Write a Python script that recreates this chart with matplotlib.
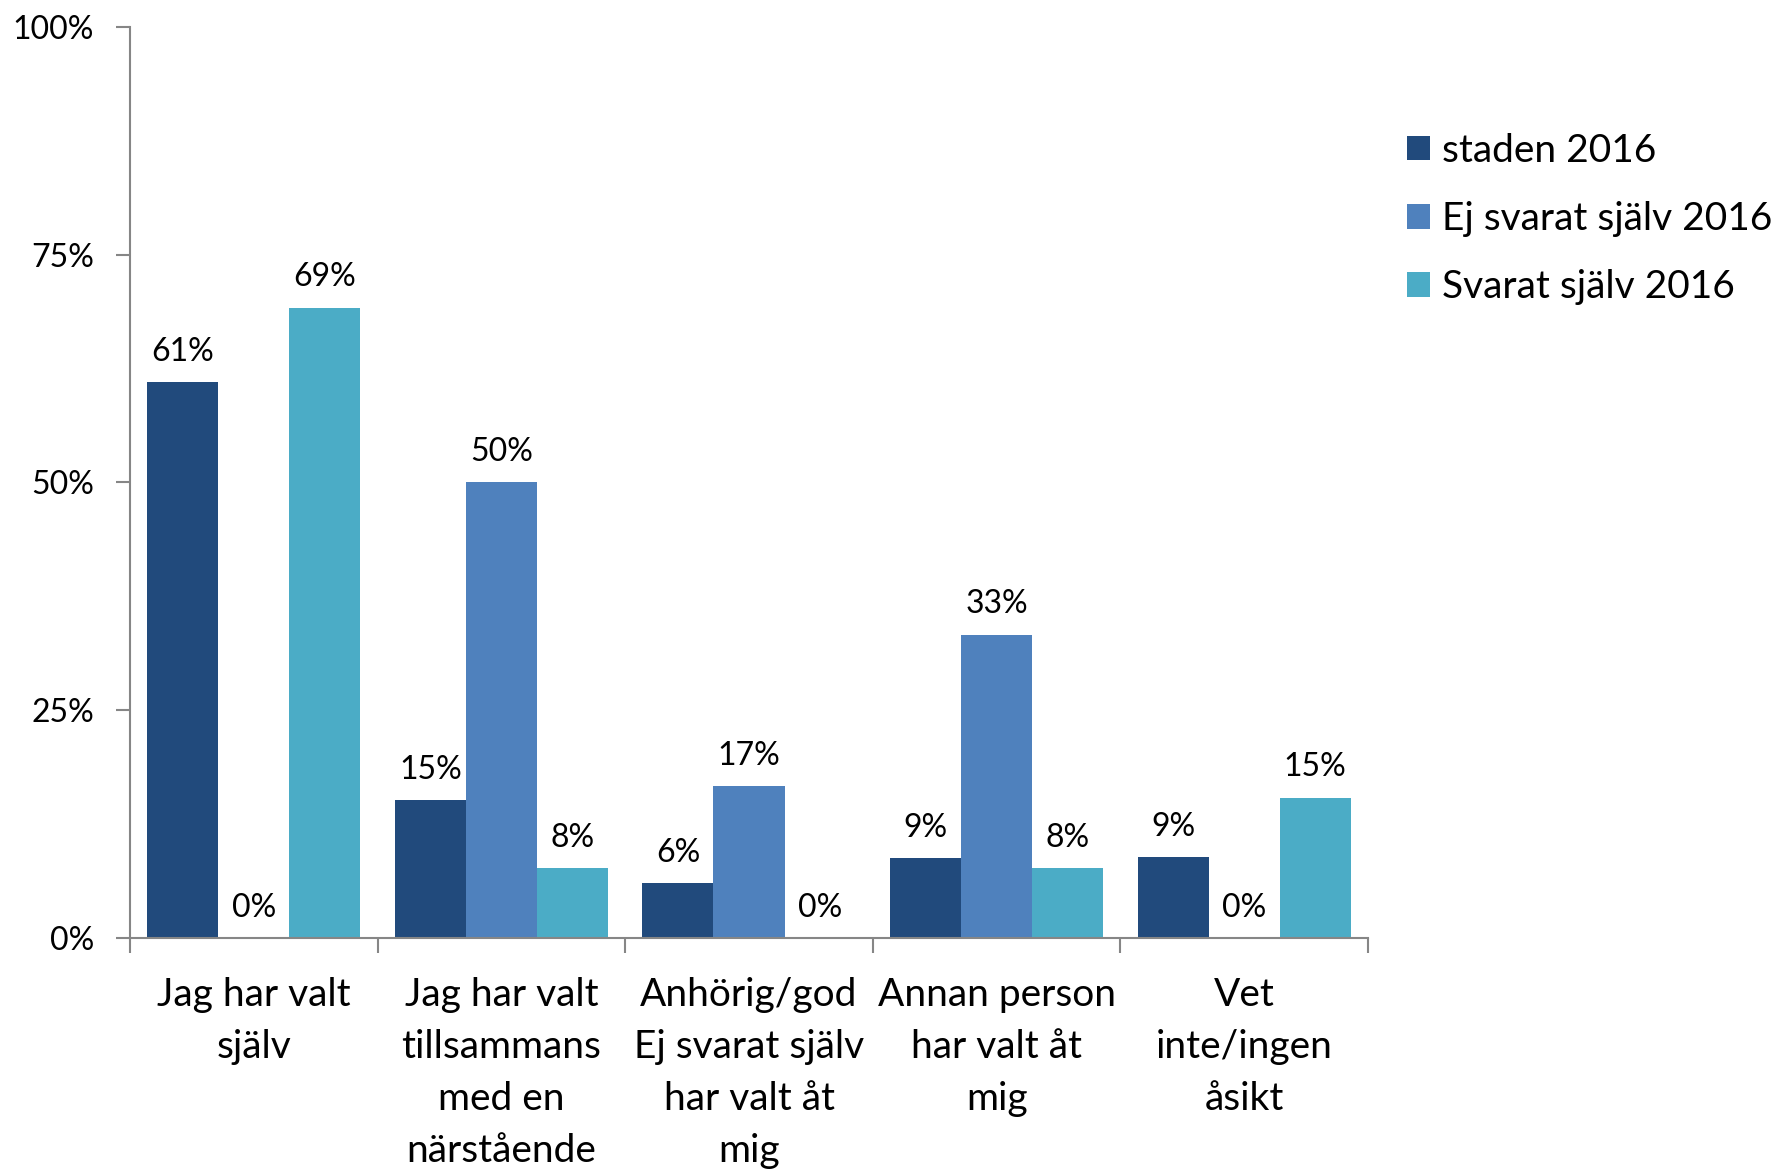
import numpy as np
import matplotlib
matplotlib.use("Agg")
import matplotlib.pyplot as plt
from matplotlib.patches import Patch
from matplotlib.ticker import FixedLocator

plt.rcParams['font.family'] = ['Lato', 'DejaVu Sans']

# Data (percent)
kategorier = ["Jag har valt\nsjälv",
              "Jag har valt\ntillsammans\nmed en\nnärstående",
              "Anhörig/god\nEj svarat själv\nhar valt åt\nmig",
              "Annan person\nhar valt åt\nmig",
              "Vet\ninte/ingen\nåsikt"]
serier = ["staden 2016", "Ej svarat själv 2016", "Svarat själv 2016"]
staden = [61.0, 15.1, 6.0, 8.8, 8.9]
ej_svarat = [0.0, 50.0, 16.7, 33.3, 0.0]
svarat = [69.2, 7.7, 0.0, 7.7, 15.4]
y_ticks = [0, 25, 50, 75, 100]
y_ticklabels = ["0%", "25%", "50%", "75%", "100%"]

farger = ["#214A7C", "#4F81BD", "#4BACC6"]
grafit = "#868686"

fig = plt.figure(figsize=(17.72, 11.71), dpi=100)
ax = fig.add_axes([0.0734, 0.199, 0.6986, 0.778])

x = np.arange(len(kategorier))
bredd = 0.287
for i, (vals, farg, namn) in enumerate(zip([staden, ej_svarat, svarat], farger, serier)):
    pos = x + (i - 1) * bredd
    ax.bar(pos, vals, width=bredd, color=farg, label=namn)
    for px, v in zip(pos, vals):
        ax.annotate(f"{v:.0f}%", (px, v), xytext=(0, 11), textcoords="offset points",
                    ha="center", va="bottom", fontsize=23)

ax.set_xlim(-0.5, len(kategorier) - 0.5)
ax.set_ylim(0, 100)
ax.set_yticks(y_ticks)
ax.set_yticklabels(y_ticklabels, fontsize=23)
ax.set_xticks(x)
ax.set_xticklabels(kategorier, fontsize=28, linespacing=1.55)
ax.tick_params(axis="x", which="major", length=0, pad=28)
ax.xaxis.set_minor_locator(FixedLocator(np.arange(-0.5, len(kategorier), 1.0)))
ax.tick_params(axis="x", which="minor", length=11, width=1.5, color=grafit, direction="out")
ax.tick_params(axis="y", length=10, width=1.5, color=grafit, direction="out", pad=16)

for s in ["top", "right"]:
    ax.spines[s].set_visible(False)
for s in ["left", "bottom"]:
    ax.spines[s].set_color(grafit)
    ax.spines[s].set_linewidth(1.5)

handles = [Patch(facecolor=f, edgecolor="none") for f in farger]
fig.legend(handles, serier, loc="upper left", bbox_to_anchor=(0.785, 0.90),
           frameon=False, fontsize=28, handlelength=0.6, handleheight=0.6,
           handletextpad=0.3, labelspacing=0.83, borderaxespad=0)

fig.savefig("out.png", dpi=100)
